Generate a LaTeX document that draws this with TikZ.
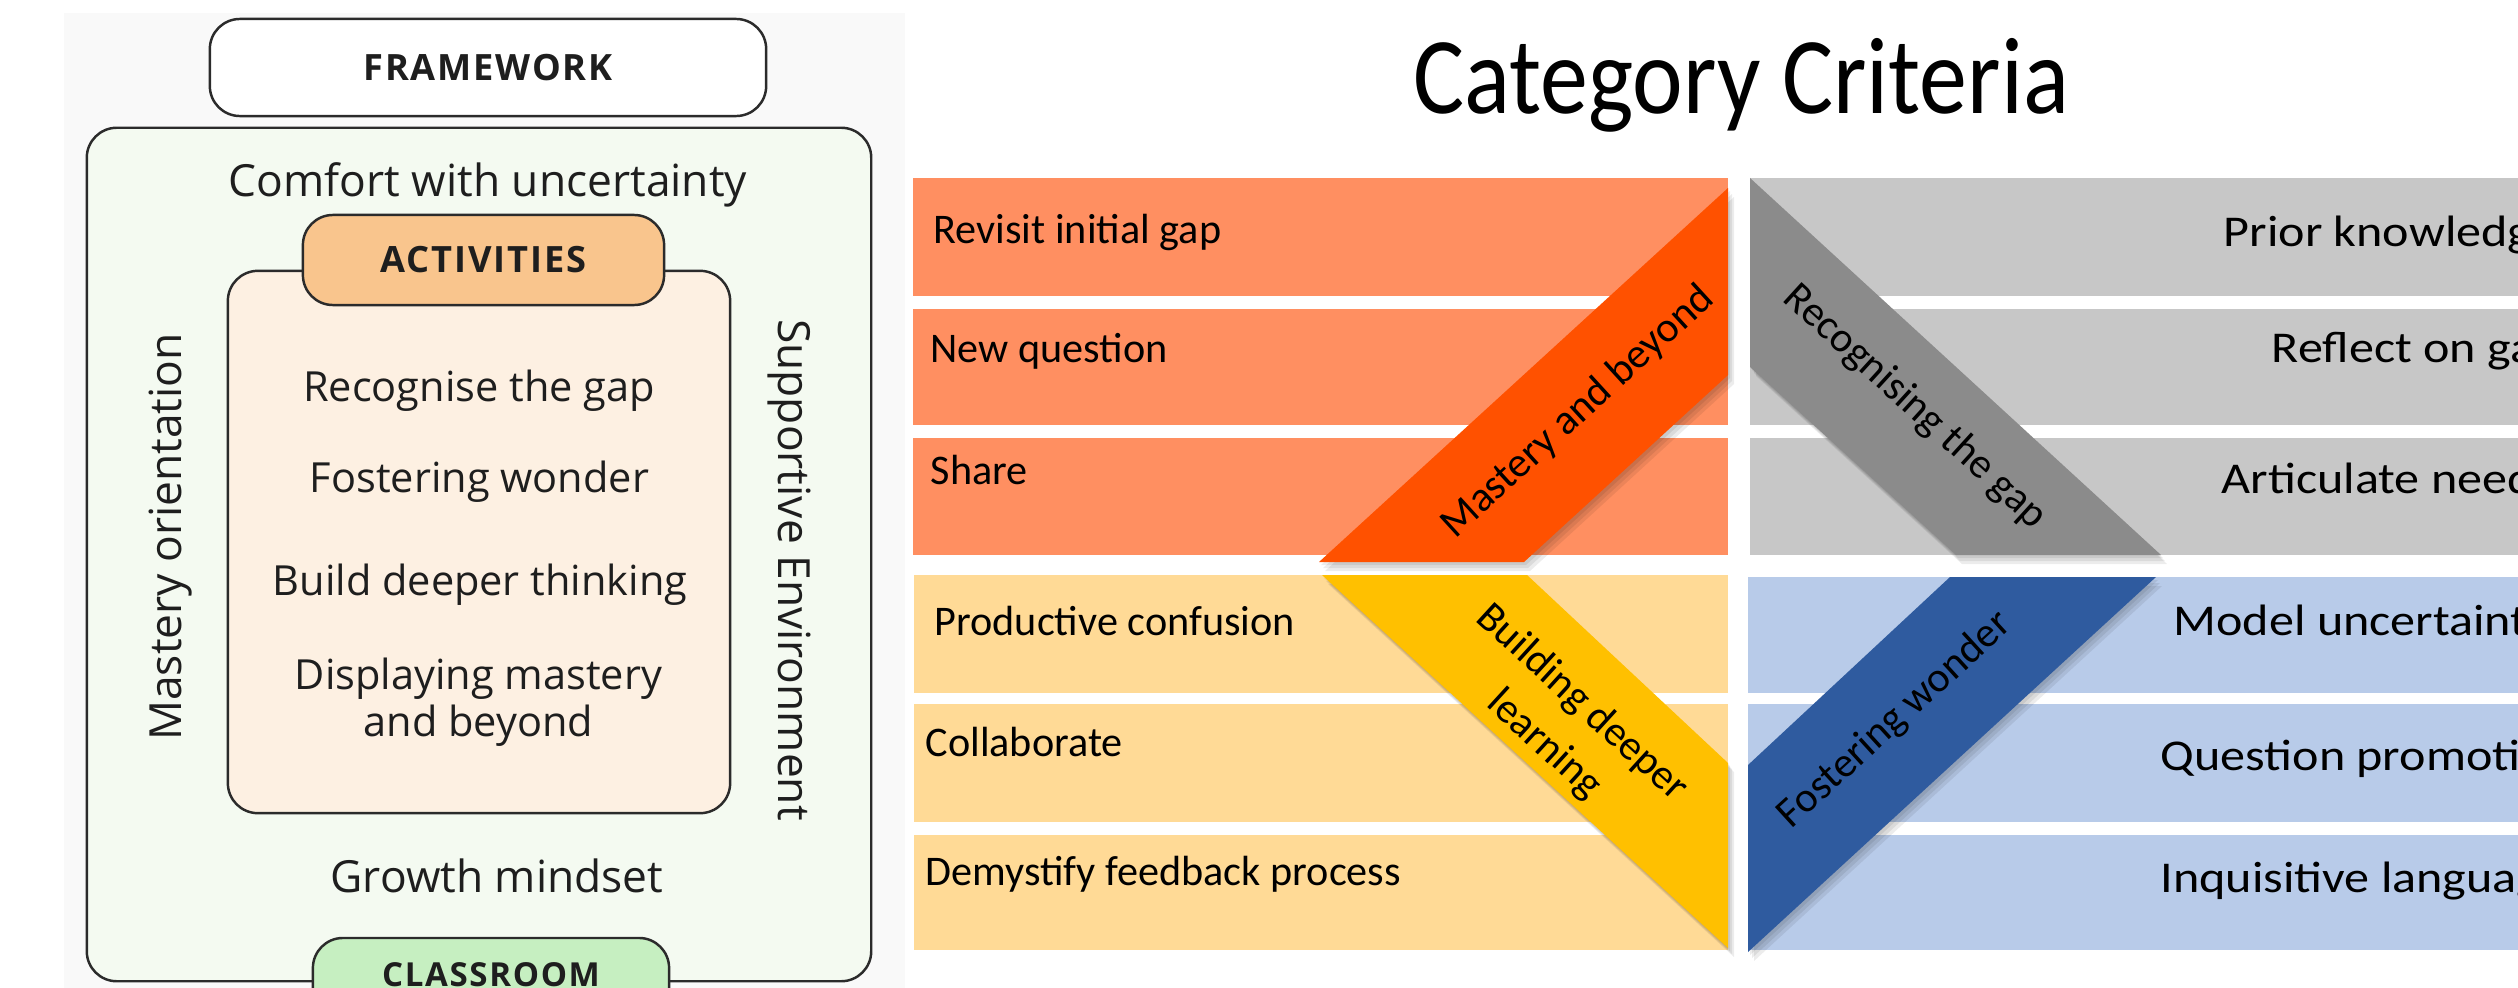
\documentclass[tikz,border=0pt]{standalone}
\usepackage{fontspec}
\setmainfont{Open Sans}
\newfontfamily\criteriafont{Carlito}
\newfontfamily\capsfont[LetterSpace=5]{Open Sans}
\definecolor{linegray}{HTML}{2B2B2B}
\definecolor{inkdark}{HTML}{1E1E1E}
\definecolor{panelbg}{HTML}{F9F9F9}
\definecolor{outerfill}{HTML}{F4FAF1}
\definecolor{innerfill}{HTML}{FDF0E2}
\definecolor{actfill}{HTML}{F9C58D}
\definecolor{classfill}{HTML}{C6EFC1}
\definecolor{orangelt}{HTML}{FF8F61}
\definecolor{orangedk}{HTML}{FF5100}
\definecolor{yellowlt}{HTML}{FFDA96}
\definecolor{yellowdk}{HTML}{FFC000}
\definecolor{graylt}{HTML}{C7C7C7}
\definecolor{graydk}{HTML}{8B8B8B}
\definecolor{bluelt}{HTML}{B8CBE9}
\definecolor{bluedk}{HTML}{2F5B9F}
\newcommand\widetext[1]{\scalebox{1.14}[1]{#1}}
\begin{document}
\begin{tikzpicture}[x=0.01cm,y=-0.01cm,
  framebox/.style={draw=linegray, line width=0.7pt, rounded corners=0.3cm, inner sep=0pt},
  capslabel/.style={font=\capsfont\bfseries\fontsize{10.3}{12}\selectfont, text=inkdark, inner sep=0pt},
  outertext/.style={font=\fontsize{12.6}{15}\selectfont, text=inkdark, inner sep=0pt, anchor=base},
  innertext/.style={font=\fontsize{11.8}{14}\selectfont, text=inkdark, inner sep=0pt, anchor=base},
  rowtext/.style={font=\criteriafont\fontsize{12}{14}\selectfont, text=black, inner sep=0pt, anchor=base west},
  sidetext/.style={font=\criteriafont\fontsize{12.5}{15}\selectfont, text=black, inner sep=0pt, anchor=base west},
  bandtext/.style={font=\criteriafont\fontsize{12}{15.9}\selectfont, text=black, inner sep=0pt, align=center},
  shadowcopy/.style={fill=black, fill opacity=0.075},
]
\useasboundingbox (0,0) rectangle (2518,988);
\clip (0,0) rectangle (2518,988);
\fill[white] (0,0) rectangle (2518,988);

% ---------- framework panel ----------
\fill[panelbg] (64,13) rectangle (905,988);
\node[framebox, fill=outerfill, minimum width=7.84cm, minimum height=8.53cm] (outer) at (479,554.5) {};
\node[framebox, fill=innerfill, minimum width=5.02cm, minimum height=5.42cm] (inner) at (479,542) {};
\node[framebox, fill=actfill, minimum width=3.61cm, minimum height=0.9cm, capslabel] (activities) at (483.5,260) {ACTIVITIES};
\node[framebox, fill=classfill, minimum width=3.56cm, minimum height=0.9cm] (classroom) at (491,983) {};
\node[capslabel, font=\capsfont\bfseries\fontsize{9.4}{11}\selectfont] (classroomtext) at (491,975) {CLASSROOM};
\node[framebox, fill=white, minimum width=5.56cm, minimum height=0.97cm, capslabel] (framework) at (488,67.5) {FRAMEWORK};

\node[outertext] (comfort) at (488,197) {Comfort with uncertainty};
\node[outertext] (growth) at (497,892) {Growth mindset};
\node[outertext, rotate=90] (orientation) at (181,537) {Mastery orientation};
\node[outertext, rotate=-90] (supportive) at (778,570) {Supportive Environment};

\node[innertext] (gap) at (479,401) {Recognise the gap};
\node[innertext] (wonder) at (479.5,492) {Fostering wonder};
\node[innertext] (deeper) at (480,595) {Build deeper thinking};
\node[innertext] (display) at (478.5,689) {Displaying mastery};
\node[innertext] (beyond) at (478.5,736) {and beyond};

% ---------- category criteria ----------
\node[font=\criteriafont\fontsize{27}{32}\selectfont, anchor=base, inner sep=0pt] (title) at (1741,114) {\scalebox{1.01}[1.15]{Category Criteria}};

% row bands
\foreach \ya/\yb/\tx/\ty/\txt [count=\i] in {178/296/933/243/Revisit initial gap, 309/425/930/362/New question, 438/555/930/484/Share}{
  \fill[orangelt] (913,\ya) rectangle (1728,\yb);
  \node[rowtext] (mb\i) at (\tx,\ty) {\txt};
}
\foreach \ya/\yb/\tx/\ty/\txt [count=\i] in {575/693/934/635/Productive confusion, 704/822/925/756/Collaborate, 835/950/925/885/Demystify feedback process}{
  \fill[yellowlt] (914,\ya) rectangle (1728,\yb);
  \node[rowtext] (bd\i) at (\tx,\ty) {\txt};
}
\foreach \ya/\yb/\tx/\ty/\txt [count=\i] in {178/296/2223/247/Prior knowledge, 309/425/2271/362/Reflect on gap, 438/555/2221/493/Articulate need}{
  \fill[graylt] (1750,\ya) rectangle (2540,\yb);
  \node[sidetext] (rg\i) at (\tx,\ty) {\widetext{\txt}};
}
\foreach \ya/\yb/\tx/\ty/\txt [count=\i] in {577/693/2173/635/Model uncertainty, 704/822/2160/770/Question promotion, 835/950/2160/892/Inquisitive language}{
  \fill[bluelt] (1748,\ya) rectangle (2540,\yb);
  \node[sidetext] (fw\i) at (\tx,\ty) {\widetext{\txt}};
}

% slanted category bands with soft shadows
\foreach \d in {1,2,3}{
  \fill[shadowcopy, shift={({2*\d},{3*\d})}] (1319,562) -- (1524,562) -- (1728,375) -- (1728,188) -- cycle;
  \fill[shadowcopy, shift={({2*\d},{3*\d})}] (1322,575) -- (1527,575) -- (1728,763) -- (1728,948) -- cycle;
  \fill[shadowcopy, shift={({2*\d},{3*\d})}] (1750,178) -- (1750,367) -- (1956,555) -- (2161,555) -- cycle;
  \fill[shadowcopy, shift={({2*\d},{3*\d})}] (1950,577) -- (2156,577) -- (1748,952) -- (1748,765) -- cycle;
}
\fill[orangedk] (1319,562) -- (1524,562) -- (1728,375) -- (1728,188) -- cycle;
\fill[yellowdk] (1322,575) -- (1527,575) -- (1728,763) -- (1728,948) -- cycle;
\fill[graydk] (1750,178) -- (1750,367) -- (1956,555) -- (2161,555) -- cycle;
\fill[bluedk] (1950,577) -- (2156,577) -- (1748,952) -- (1748,765) -- cycle;

\node[bandtext, rotate=42.4] (masteryband) at (1578,412) {Mastery and beyond};
\node[bandtext, rotate=-42.4] (deeperband) at (1563,724) {Building deeper\\learning};
\node[bandtext, rotate=-42.4] (gapband) at (1915,407) {Recognising the gap};
\node[bandtext, rotate=42.4] (wonderband) at (1895,720) {Fostering wonder};
\end{tikzpicture}
\end{document}
